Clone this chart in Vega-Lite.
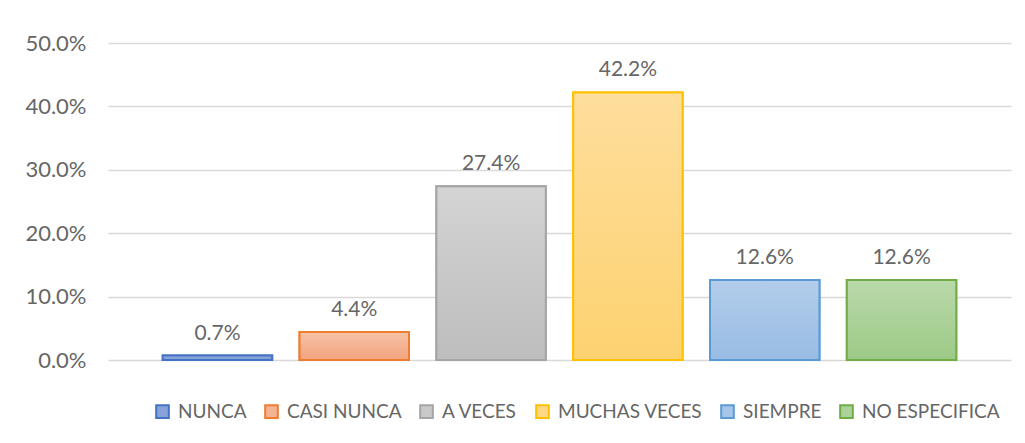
{
  "$schema": "https://vega.github.io/schema/vega-lite/v6.json",
  "width": 903,
  "height": 317,
  "autosize": "none",
  "padding": {"left": 108, "top": 43, "right": 14, "bottom": 83},
  "background": "white",
  "config": {
    "view": {"stroke": null},
    "font": "Lato"
  },
  "data": {
    "values": [
      {"cat": "NUNCA", "pct": 0.007},
      {"cat": "CASI NUNCA", "pct": 0.044},
      {"cat": "A VECES", "pct": 0.274},
      {"cat": "MUCHAS VECES", "pct": 0.422},
      {"cat": "SIEMPRE", "pct": 0.126},
      {"cat": "NO ESPECIFICA", "pct": 0.126}
    ]
  },
  "encoding": {
    "x": {
      "field": "cat",
      "type": "nominal",
      "sort": null,
      "scale": {"paddingInner": 0.2, "paddingOuter": 0.4},
      "axis": null
    },
    "y": {
      "field": "pct",
      "type": "quantitative",
      "scale": {"domain": [0, 0.5]},
      "axis": {
        "title": null,
        "format": ".1%",
        "values": [0, 0.1, 0.2, 0.3, 0.4, 0.5],
        "domain": false,
        "ticks": false,
        "labelPadding": 22,
        "labelFont": "Lato",
        "labelFontSize": 22,
        "labelColor": "#666666",
        "gridColor": "#D9D9D9",
        "gridWidth": 1.5
      }
    }
  },
  "layer": [
    {
      "mark": {"type": "bar", "strokeWidth": 2},
      "encoding": {
        "fill": {
          "field": "cat",
          "type": "nominal",
          "sort": null,
          "scale": {
            "domain": ["NUNCA", "CASI NUNCA", "A VECES", "MUCHAS VECES", "SIEMPRE", "NO ESPECIFICA"],
            "range": ["#87A3D9", "#F5B393", "#C9C9C9", "#FED887", "#A6C5E8", "#ABD298"]
          },
          "legend": {
            "title": null,
            "orient": "none",
            "legendX": 45,
            "legendY": 359,
            "direction": "horizontal",
            "symbolType": "square",
            "symbolSize": 160,
            "symbolStrokeWidth": 2,
            "labelFont": "Lato",
            "labelFontSize": 19,
            "labelColor": "#666666",
            "labelOffset": 6,
            "columnPadding": 14
          }
        },
        "stroke": {
          "field": "cat",
          "type": "nominal",
          "sort": null,
          "scale": {
            "domain": ["NUNCA", "CASI NUNCA", "A VECES", "MUCHAS VECES", "SIEMPRE", "NO ESPECIFICA"],
            "range": ["#4472C4", "#ED7D31", "#A5A5A5", "#FFC000", "#5B9BD5", "#70AD47"]
          },
          "legend": {
            "title": null,
            "orient": "none",
            "legendX": 45,
            "legendY": 359,
            "direction": "horizontal",
            "symbolType": "square",
            "symbolSize": 160,
            "symbolStrokeWidth": 2,
            "labelFont": "Lato",
            "labelFontSize": 19,
            "labelColor": "#666666",
            "labelOffset": 6,
            "columnPadding": 14
          }
        }
      }
    },
    {
      "mark": {
        "type": "bar",
        "strokeWidth": 2,
        "fill": {"expr": "{gradient: 'linear', x1: 0, y1: 0, x2: 0, y2: 1, stops: datum.cat === 'NUNCA' ? [{offset: 0, color: '#93ACDD'}, {offset: 1, color: '#7B9AD4'}] : datum.cat === 'CASI NUNCA' ? [{offset: 0, color: '#F7C2A6'}, {offset: 1, color: '#F2A37F'}] : datum.cat === 'A VECES' ? [{offset: 0, color: '#D4D4D4'}, {offset: 1, color: '#BDBDBD'}] : datum.cat === 'MUCHAS VECES' ? [{offset: 0, color: '#FEDE9C'}, {offset: 1, color: '#FDD270'}] : datum.cat === 'SIEMPRE' ? [{offset: 0, color: '#B3CDEB'}, {offset: 1, color: '#98BCE4'}] : [{offset: 0, color: '#B9D9A9'}, {offset: 1, color: '#9DCA88'}]}"}
      },
      "encoding": {
        "stroke": {
          "field": "cat",
          "type": "nominal",
          "sort": null,
          "legend": null
        }
      }
    },
    {
      "mark": {"type": "text", "baseline": "alphabetic", "dy": -16, "font": "Lato", "fontSize": 21, "color": "#666666"},
      "encoding": {
        "text": {"field": "pct", "type": "quantitative", "format": ".1%"}
      }
    }
  ]
}
